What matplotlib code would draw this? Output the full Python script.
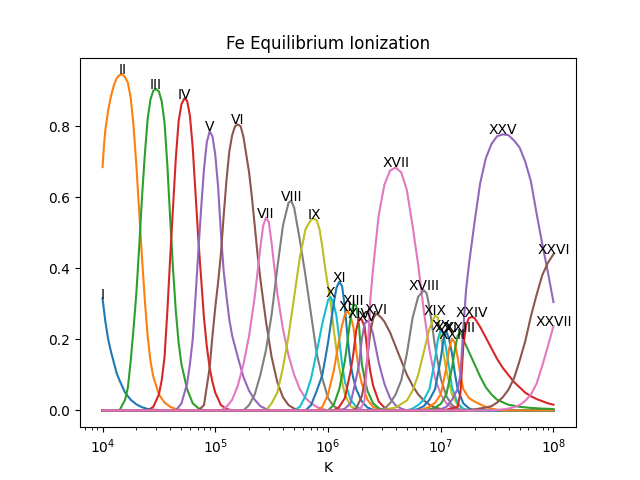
###  Import modules

import numpy as np
import matplotlib
matplotlib.use('Agg')
import matplotlib.pyplot as plt


###  Ion stage labels

ion_names = ['I', 'II', 'III', 'IV', 'V', 'VI', 'VII', 'VIII', 'IX', 'X',
             'XI', 'XII', 'XIII', 'XIV', 'XV', 'XVI', 'XVII', 'XVIII', 'XIX', 'XX',
             'XXI', 'XXII', 'XXIII', 'XXIV', 'XXV', 'XXVI', 'XXVII']


fe_01 = [(4.00, 0.315), (4.025, 0.25), (4.05, 0.20), (4.075, 0.165), (4.10, 0.135), (4.125, 0.105),
         (4.15, 0.085), (4.20, 0.05), (4.25, 0.03), (4.30, 0.017), (4.35, 0.009), (4.40, 0.004),
         (4.45, 0.002), (4.50, 0.001), (4.55, 0.0)]
fe_02 = [(4.00, 0.685), (4.0125, 0.745), (4.025, 0.79), (4.05, 0.845), (4.075, 0.885), (4.10, 0.915),
         (4.125, 0.935), (4.15, 0.944), (4.175, 0.946), (4.20, 0.938), (4.225, 0.922), (4.25, 0.88),
         (4.275, 0.80), (4.30, 0.69), (4.325, 0.56), (4.35, 0.43), (4.375, 0.31), (4.40, 0.21),
         (4.425, 0.14), (4.45, 0.095), (4.50, 0.045), (4.55, 0.022), (4.60, 0.01), (4.65, 0.004),
         (4.70, 0.001), (4.75, 0.0)]
fe_03 = [(4.15, 0.0), (4.20, 0.03), (4.225, 0.065), (4.25, 0.14), (4.275, 0.23), (4.30, 0.33),
         (4.325, 0.46), (4.35, 0.60), (4.375, 0.72), (4.40, 0.82), (4.425, 0.875), (4.45, 0.90),
         (4.475, 0.905), (4.50, 0.898), (4.525, 0.87), (4.55, 0.81), (4.575, 0.69), (4.60, 0.54),
         (4.625, 0.40), (4.65, 0.28), (4.675, 0.19), (4.70, 0.13), (4.75, 0.06), (4.80, 0.02),
         (4.85, 0.006), (4.90, 0.0)]
fe_04 = [(4.40, 0.0), (4.45, 0.01), (4.50, 0.045), (4.525, 0.085), (4.55, 0.15), (4.575, 0.28),
         (4.60, 0.43), (4.625, 0.57), (4.65, 0.71), (4.675, 0.815), (4.70, 0.862), (4.725, 0.878),
         (4.75, 0.872), (4.775, 0.83), (4.80, 0.74), (4.825, 0.61), (4.85, 0.48), (4.875, 0.37),
         (4.90, 0.26), (4.925, 0.18), (4.95, 0.12), (4.975, 0.08), (5.00, 0.05), (5.05, 0.015),
         (5.10, 0.004), (5.15, 0.0)]
fe_05 = [(4.65, 0.0), (4.70, 0.02), (4.75, 0.075), (4.775, 0.13), (4.80, 0.20), (4.825, 0.32),
         (4.85, 0.45), (4.875, 0.57), (4.90, 0.68), (4.925, 0.755), (4.95, 0.786), (4.975, 0.772),
         (5.00, 0.72), (5.025, 0.63), (5.05, 0.50), (5.075, 0.39), (5.10, 0.32), (5.125, 0.255),
         (5.15, 0.21), (5.20, 0.15), (5.25, 0.094), (5.30, 0.055), (5.35, 0.03), (5.40, 0.012),
         (5.45, 0.004), (5.50, 0.0)]
fe_06 = [(4.85, 0.0), (4.90, 0.015), (4.95, 0.12), (4.975, 0.21), (5.00, 0.29), (5.025, 0.36),
         (5.05, 0.44), (5.075, 0.55), (5.10, 0.65), (5.125, 0.73), (5.15, 0.775), (5.175, 0.80),
         (5.20, 0.805), (5.225, 0.80), (5.25, 0.77), (5.275, 0.72), (5.30, 0.67), (5.325, 0.60),
         (5.35, 0.52), (5.375, 0.44), (5.40, 0.37), (5.45, 0.25), (5.50, 0.15), (5.55, 0.08),
         (5.60, 0.037), (5.65, 0.015), (5.70, 0.005), (5.75, 0.0)]
fe_07 = [(5.05, 0.0), (5.10, 0.01), (5.15, 0.03), (5.20, 0.07), (5.25, 0.13), (5.30, 0.21),
         (5.35, 0.32), (5.40, 0.46), (5.425, 0.52), (5.45, 0.543), (5.475, 0.53), (5.50, 0.47),
         (5.55, 0.33), (5.60, 0.23), (5.65, 0.155), (5.70, 0.10), (5.75, 0.06), (5.80, 0.035),
         (5.85, 0.02), (5.90, 0.01), (5.95, 0.004), (6.00, 0.0)]
fe_08 = [(5.25, 0.0), (5.30, 0.015), (5.35, 0.045), (5.40, 0.10), (5.45, 0.17), (5.50, 0.27),
         (5.55, 0.40), (5.60, 0.52), (5.65, 0.585), (5.675, 0.59), (5.70, 0.57), (5.75, 0.48),
         (5.80, 0.38), (5.85, 0.27), (5.90, 0.16), (5.95, 0.09), (6.00, 0.035), (6.05, 0.012),
         (6.10, 0.003), (6.15, 0.0)]
fe_09 = [(5.45, 0.0), (5.50, 0.02), (5.55, 0.05), (5.60, 0.12), (5.65, 0.21), (5.70, 0.32),
         (5.75, 0.43), (5.80, 0.51), (5.85, 0.537), (5.875, 0.54), (5.90, 0.535), (5.925, 0.51),
         (5.95, 0.46), (5.975, 0.40), (6.00, 0.35), (6.025, 0.30), (6.05, 0.23), (6.075, 0.17),
         (6.10, 0.12), (6.125, 0.08), (6.15, 0.045), (6.20, 0.012), (6.25, 0.003), (6.30, 0.0)]
fe_10 = [(5.70, 0.0), (5.75, 0.01), (5.80, 0.04), (5.85, 0.09), (5.90, 0.165), (5.95, 0.245),
         (6.00, 0.31), (6.025, 0.319), (6.05, 0.30), (6.075, 0.265), (6.10, 0.20), (6.125, 0.13),
         (6.15, 0.08), (6.20, 0.03), (6.25, 0.01), (6.30, 0.002), (6.35, 0.0)]
fe_11 = [(5.80, 0.0), (5.85, 0.015), (5.90, 0.055), (5.95, 0.10), (6.00, 0.19), (6.05, 0.30),
         (6.075, 0.345), (6.10, 0.362), (6.125, 0.35), (6.15, 0.29), (6.175, 0.20), (6.20, 0.13),
         (6.225, 0.09), (6.25, 0.06), (6.30, 0.025), (6.35, 0.008), (6.40, 0.002), (6.45, 0.0)]
fe_12 = [(5.90, 0.0), (5.95, 0.01), (6.00, 0.045), (6.05, 0.11), (6.10, 0.20), (6.125, 0.24),
         (6.15, 0.27), (6.175, 0.28), (6.20, 0.265), (6.225, 0.235), (6.25, 0.17), (6.275, 0.11),
         (6.30, 0.075), (6.35, 0.03), (6.40, 0.01), (6.45, 0.003), (6.50, 0.0)]
fe_13 = [(6.00, 0.0), (6.05, 0.015), (6.10, 0.06), (6.15, 0.14), (6.20, 0.26), (6.225, 0.298),
         (6.25, 0.295), (6.275, 0.24), (6.30, 0.13), (6.325, 0.09), (6.35, 0.055), (6.40, 0.02),
         (6.45, 0.006), (6.50, 0.0)]
fe_14 = [(6.05, 0.0), (6.10, 0.01), (6.15, 0.035), (6.20, 0.11), (6.225, 0.16), (6.25, 0.225),
         (6.275, 0.26), (6.30, 0.255), (6.325, 0.235), (6.35, 0.165), (6.375, 0.11), (6.40, 0.07),
         (6.45, 0.025), (6.50, 0.008), (6.55, 0.002), (6.60, 0.0)]
fe_15 = [(6.10, 0.0), (6.15, 0.005), (6.20, 0.02), (6.25, 0.09), (6.275, 0.13), (6.30, 0.20),
         (6.325, 0.245), (6.35, 0.252), (6.375, 0.24), (6.40, 0.215), (6.45, 0.135), (6.50, 0.075),
         (6.55, 0.035), (6.60, 0.014), (6.65, 0.005), (6.70, 0.0)]
fe_16 = [(6.20, 0.0), (6.25, 0.005), (6.30, 0.04), (6.325, 0.08), (6.35, 0.15), (6.375, 0.22),
         (6.40, 0.258), (6.425, 0.272), (6.45, 0.268), (6.475, 0.26), (6.50, 0.25), (6.55, 0.22),
         (6.60, 0.18), (6.65, 0.14), (6.70, 0.10), (6.75, 0.07), (6.80, 0.045), (6.85, 0.028),
         (6.90, 0.016), (6.95, 0.008), (7.00, 0.004), (7.05, 0.0)]
fe_17 = [(6.25, 0.0), (6.30, 0.01), (6.325, 0.03), (6.35, 0.15), (6.375, 0.31), (6.40, 0.40),
         (6.45, 0.55), (6.50, 0.635), (6.55, 0.675), (6.60, 0.684), (6.65, 0.67), (6.70, 0.62),
         (6.75, 0.52), (6.80, 0.41), (6.85, 0.28), (6.90, 0.17), (6.95, 0.09), (7.00, 0.045),
         (7.05, 0.02), (7.10, 0.008), (7.15, 0.003), (7.20, 0.0)]
fe_18 = [(6.45, 0.0), (6.50, 0.005), (6.55, 0.02), (6.60, 0.045), (6.65, 0.085), (6.70, 0.16),
         (6.75, 0.26), (6.80, 0.32), (6.85, 0.338), (6.875, 0.33), (6.90, 0.29), (6.95, 0.18),
         (7.00, 0.09), (7.05, 0.04), (7.10, 0.015), (7.15, 0.005), (7.20, 0.0)]
fe_19 = [(6.45, 0.0), (6.50, 0.002), (6.60, 0.008), (6.70, 0.028), (6.75, 0.055), (6.80, 0.10),
         (6.85, 0.165), (6.90, 0.23), (6.95, 0.268), (6.975, 0.26), (7.00, 0.215), (7.025, 0.16),
         (7.05, 0.113), (7.10, 0.045), (7.15, 0.015), (7.20, 0.004), (7.25, 0.0)]
fe_20 = [(6.70, 0.0), (6.75, 0.005), (6.80, 0.015), (6.85, 0.03), (6.90, 0.06), (6.95, 0.145),
         (6.975, 0.20), (7.00, 0.226), (7.025, 0.215), (7.05, 0.17), (7.075, 0.12), (7.10, 0.065),
         (7.15, 0.02), (7.20, 0.005), (7.25, 0.0)]
fe_21 = [(6.75, 0.0), (6.80, 0.004), (6.85, 0.012), (6.90, 0.03), (6.95, 0.06), (7.00, 0.145),
         (7.025, 0.20), (7.05, 0.222), (7.075, 0.20), (7.10, 0.16), (7.125, 0.105), (7.15, 0.06),
         (7.20, 0.02), (7.25, 0.006), (7.30, 0.0)]
fe_22 = [(6.80, 0.0), (6.85, 0.004), (6.90, 0.01), (6.95, 0.022), (7.00, 0.045), (7.05, 0.12),
         (7.075, 0.175), (7.10, 0.202), (7.125, 0.19), (7.15, 0.15), (7.175, 0.10), (7.20, 0.06),
         (7.25, 0.035), (7.30, 0.025), (7.35, 0.017), (7.40, 0.01), (7.45, 0.005), (7.50, 0.002),
         (7.55, 0.0)]
fe_23 = [(6.85, 0.0), (6.90, 0.003), (6.95, 0.008), (7.00, 0.018), (7.05, 0.045), (7.10, 0.12),
         (7.125, 0.17), (7.15, 0.21), (7.175, 0.221), (7.20, 0.20), (7.25, 0.165), (7.30, 0.13),
         (7.35, 0.095), (7.40, 0.065), (7.45, 0.045), (7.50, 0.03), (7.60, 0.016), (7.70, 0.01),
         (7.80, 0.007), (7.90, 0.005), (8.00, 0.004)]
fe_24 = [(7.00, 0.0), (7.05, 0.002), (7.10, 0.006), (7.15, 0.01), (7.175, 0.05), (7.20, 0.18),
         (7.225, 0.24), (7.25, 0.26), (7.275, 0.263), (7.30, 0.26), (7.35, 0.235), (7.40, 0.205),
         (7.45, 0.175), (7.50, 0.145), (7.55, 0.12), (7.60, 0.10), (7.65, 0.08), (7.70, 0.065),
         (7.75, 0.05), (7.80, 0.04), (7.85, 0.032), (7.90, 0.026), (7.95, 0.02), (8.00, 0.016)]
fe_25 = [(6.95, 0.0), (7.00, 0.003), (7.05, 0.01), (7.10, 0.03), (7.15, 0.06), (7.175, 0.10),
         (7.20, 0.23), (7.225, 0.34), (7.25, 0.41), (7.30, 0.53), (7.35, 0.64), (7.40, 0.71),
         (7.45, 0.75), (7.50, 0.772), (7.55, 0.777), (7.60, 0.775), (7.65, 0.76), (7.70, 0.74),
         (7.75, 0.70), (7.80, 0.645), (7.85, 0.555), (7.90, 0.47), (7.95, 0.39), (8.00, 0.305)]
fe_26 = [(7.20, 0.0), (7.30, 0.003), (7.40, 0.008), (7.45, 0.012), (7.50, 0.022), (7.55, 0.037),
         (7.60, 0.058), (7.65, 0.09), (7.70, 0.14), (7.75, 0.195), (7.80, 0.265), (7.85, 0.325),
         (7.90, 0.38), (7.95, 0.415), (8.00, 0.44)]
fe_27 = [(7.40, 0.0), (7.50, 0.001), (7.60, 0.005), (7.65, 0.009), (7.70, 0.015), (7.75, 0.027),
         (7.80, 0.045), (7.85, 0.075), (7.90, 0.125), (7.95, 0.18), (8.00, 0.237)]

ion_data = [fe_01, fe_02, fe_03, fe_04, fe_05, fe_06, fe_07, fe_08, fe_09, fe_10,
            fe_11, fe_12, fe_13, fe_14, fe_15, fe_16, fe_17, fe_18, fe_19, fe_20,
            fe_21, fe_22, fe_23, fe_24, fe_25, fe_26, fe_27]

log_t_min = 4.0
log_t_max = 8.0


###  Plot every ion over the full temperature range

plt.figure(figsize=(6.4, 4.8))

for i_ion in range(len(ion_names)):
	pts = ion_data[i_ion]
	# zero fraction outside the range where the ion exists
	if pts[0][0] > log_t_min:
		pts = [(log_t_min, 0.0)] + pts
	if pts[-1][0] < log_t_max:
		pts = pts + [(log_t_max, 0.0)]
	temp = 10.**np.array([p[0] for p in pts])
	frac = np.array([p[1] for p in pts])
	plt.semilogx(temp, frac)
	i_max = np.argmax(frac)
	plt.text(temp[i_max], frac[i_max], ion_names[i_ion], ha='center')

plt.xlabel('K')
plt.title('Fe Equilibrium Ionization')
plt.savefig('out.png')
plt.close()
